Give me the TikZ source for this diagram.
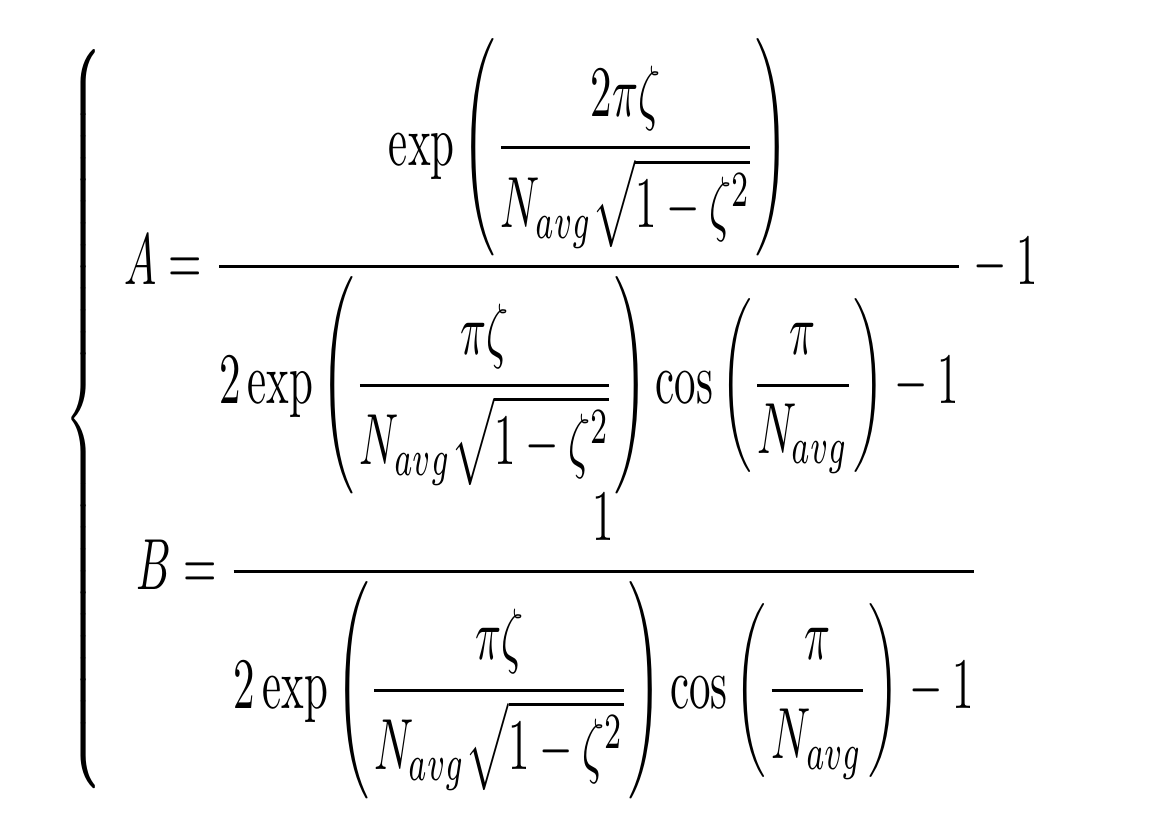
\documentclass[tikz,border=0pt]{standalone}
\usepackage{amsmath,graphicx}
\begin{document}
\begin{tikzpicture}
\useasboundingbox (0,0) rectangle (11.57,8.39);
\node[name=eq, inner sep=0pt, anchor=center] at (5.65,4.2) {\resizebox*{10.0cm}{7.6cm}{$\displaystyle
\left\{\begin{array}{l}
A=\dfrac{\exp\left(\dfrac{2\pi\zeta}{N_{avg}\sqrt{1-\zeta^{2}}}\right)}{2\exp\left(\dfrac{\pi\zeta}{N_{avg}\sqrt{1-\zeta^{2}}}\right)\cos\left(\dfrac{\pi}{N_{avg}}\right)-1}-1\\[1ex]
\;B=\dfrac{1}{2\exp\left(\dfrac{\pi\zeta}{N_{avg}\sqrt{1-\zeta^{2}}}\right)\cos\left(\dfrac{\pi}{N_{avg}}\right)-1}
\end{array}\right.$}};
\end{tikzpicture}
\end{document}
